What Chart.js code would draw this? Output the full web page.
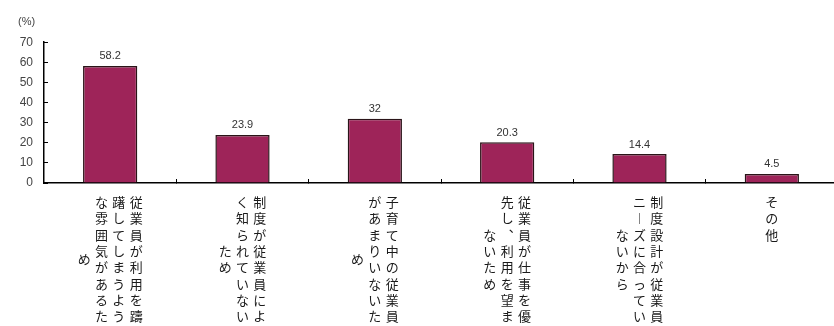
<!DOCTYPE html>
<html><head><meta charset="utf-8">
<script src="https://cdn.jsdelivr.net/npm/chart.js@4"></script>
<style>html,body{margin:0;padding:0;background:#fff;overflow:hidden}#wrap{width:838px;height:326px;position:relative}</style>
</head><body><div id="wrap"><canvas id="c"></canvas></div>
<script>
// ---- data ----
const categories = [
  "従業員が利用を躊躇してしまうような雰囲気があるため",
  "制度が従業員によく知られていないため",
  "子育て中の従業員があまりいないため",
  "従業員が仕事を優先し、利用を望まないため",
  "制度設計が従業員ニーズに合っていないから",
  "その他"
];
const values = [58.2, 23.9, 32, 20.3, 14.4, 4.5];
const yTickValues = [0, 10, 20, 30, 40, 50, 60, 70];
const unitLabel = "(%)";

// ---- vertical (tategaki) label builder ----
const ROWS = 8;
const VERT = {"、": "︑", "ー": "︱"};
const GAP = "\u2004";
function verticalLines(text) {
  const chars = Array.from(text).map(c => VERT[c] || c);
  const cols = [];
  for (let i = 0; i < chars.length; i += ROWS) cols.push(chars.slice(i, i + ROWS));
  const maxLen = Math.max(...cols.map(c => c.length));
  const nSub = 2 * maxLen - 1;
  const grid = Array.from({length: nSub}, () => cols.map(() => "\u3000"));
  cols.forEach((col, ci) => {
    const start = maxLen - col.length;
    col.forEach((ch, k) => { grid[start + 2 * k][ci] = ch; });
  });
  return grid.map(r => r.slice().reverse().join(GAP));
}
const tickLabels = categories.map(verticalLines);

const valueLabels = {
  id: 'valueLabels',
  afterDatasetsDraw(chart) {
    const {ctx} = chart;
    const meta = chart.getDatasetMeta(0);
    ctx.save();
    ctx.font = '11px "Liberation Sans", Arial, sans-serif';
    ctx.fillStyle = '#333';
    ctx.textAlign = 'center';
    ctx.textBaseline = 'bottom';
    meta.data.forEach((bar, i) => {
      ctx.fillText(String(values[i]), bar.x, bar.y - 4);
    });
    ctx.restore();
  }
};

new Chart(document.getElementById('c'), {
  type: 'bar',
  data: {
    labels: tickLabels,
    datasets: [{
      data: values,
      backgroundColor: '#9e2459',
      borderColor: '#2a1418',
      borderWidth: 1.5,
      barPercentage: 0.41,
      categoryPercentage: 1.0
    }]
  },
  options: {
    responsive: true,
    maintainAspectRatio: false,
    animation: false,
    layout: {padding: {left: 18, right: 0, top: 0, bottom: 0}},
    plugins: {
      legend: {display: false},
      tooltip: {enabled: false},
      title: {
        display: true,
        text: unitLabel,
        align: 'start',
        color: '#444',
        font: {family: '"Liberation Sans", Arial, sans-serif', size: 11, weight: 'normal'},
        padding: {top: 15, bottom: 14}
      }
    },
    scales: {
      x: {
        afterFit(scale) { scale.height = 143; },
        border: {display: true, color: '#000', width: 1.5},
        grid: {display: true, drawOnChartArea: false, drawTicks: true, tickLength: -4, color: '#000', lineWidth: 1},
        ticks: {
          maxRotation: 0, minRotation: 0, autoSkip: false,
          padding: 19,
          color: '#1a1a1a',
          font: {family: '"Noto Sans CJK JP", sans-serif', size: 13, lineHeight: '8.15px'}
        }
      },
      y: {
        min: 0, max: 70,
        afterFit(scale) { scale.width = 26; },
        afterBuildTicks(scale) { scale.ticks = yTickValues.map(v => ({value: v})); },
        border: {display: true, color: '#000', width: 1.5},
        grid: {display: true, drawOnChartArea: false, drawTicks: true, tickLength: -4, color: '#000', lineWidth: 1},
        ticks: {
          autoSkip: false,
          padding: 15,
          color: '#444',
          font: {family: '"Liberation Sans", Arial, sans-serif', size: 12}
        }
      }
    }
  },
  plugins: [valueLabels]
});
</script>
</body></html>
